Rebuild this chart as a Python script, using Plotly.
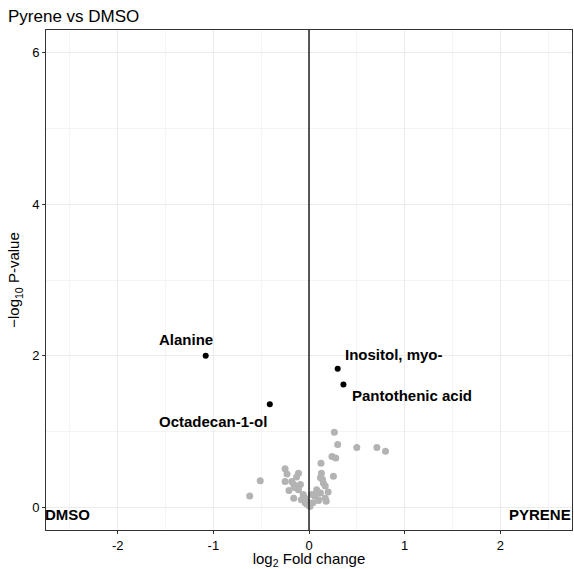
import plotly.graph_objects as go

# Significant (labelled) metabolites
sig_names = ["Alanine", "Octadecan-1-ol", "Inositol, myo-", "Pantothenic acid"]
sig_log2fc = [-1.08, -0.41, 0.30, 0.36]
sig_neglogp = [2.00, 1.36, 1.83, 1.62]

# Non-significant metabolites
ns_log2fc = [0.265, 0.30, 0.50, 0.71, 0.80, 0.24, 0.28, 0.125, -0.51, -0.62,
             -0.25, -0.23, -0.11, -0.13, 0.13, 0.12, 0.255, -0.25, -0.18, -0.16,
             -0.09, 0.15, 0.17, -0.15, -0.11, 0.08, 0.12, -0.06, -0.04, 0.03,
             0.06, 0.10, 0.17, 0.18, -0.08, -0.04, 0.01, 0.04, -0.02, -0.16,
             0.10, -0.21, 0.20, 0.09, 0.14, -0.02, 0.00]
ns_neglogp = [0.99, 0.83, 0.79, 0.79, 0.74, 0.67, 0.65, 0.58, 0.35, 0.15,
              0.51, 0.44, 0.45, 0.40, 0.45, 0.39, 0.41, 0.34, 0.34, 0.30,
              0.30, 0.32, 0.28, 0.26, 0.23, 0.23, 0.19, 0.17, 0.12, 0.17,
              0.15, 0.10, 0.12, 0.08, 0.10, 0.06, 0.01, 0.06, 0.04, 0.12,
              0.09, 0.22, 0.20, 0.20, 0.37, 0.08, 0.03]

x_ticks = [-2, -1, 0, 1, 2]
y_ticks = [0, 2, 4, 6]

# label offsets in pixels (dx, dy, anchor)
label_style = {
    "Alanine": (-20, 16, "center"),
    "Octadecan-1-ol": (-57, -17, "center"),
    "Inositol, myo-": (5, 14, "left"),
    "Pantothenic acid": (7, -11, "left"),
}

bold = dict(family="Liberation Sans, Arial", size=15, color="black", weight="bold")

fig = go.Figure()
fig.add_trace(go.Scatter(x=ns_log2fc, y=ns_neglogp, mode="markers",
                         marker=dict(color="#b3b3b3", size=7), hoverinfo="skip"))
fig.add_trace(go.Scatter(x=sig_log2fc, y=sig_neglogp, mode="markers",
                         marker=dict(color="black", size=6), text=sig_names))

annotations = []
for n, x, y in zip(sig_names, sig_log2fc, sig_neglogp):
    dx, dy, anc = label_style[n]
    annotations.append(dict(x=x, y=y, text=n, showarrow=False, xanchor=anc,
                            yanchor="middle", xshift=dx, yshift=dy, font=bold))
annotations.append(dict(x=0, y=-0.1, xref="paper", yref="y", text="DMSO",
                        showarrow=False, xanchor="left", yanchor="middle", xshift=-3,
                        font=bold))
annotations.append(dict(x=1, y=-0.1, xref="paper", yref="y", text="PYRENE",
                        showarrow=False, xanchor="right", yanchor="middle", xshift=1,
                        font=bold))

fig.update_layout(
    width=574, height=569,
    margin=dict(l=46, r=1, t=30, b=37),
    paper_bgcolor="white", plot_bgcolor="white",
    showlegend=False,
    title=dict(text="Pyrene vs DMSO", x=8 / 574, xref="container", xanchor="left",
               y=1 - 16 / 569, yanchor="middle", yref="container",
               font=dict(family="Liberation Sans, Arial", size=17, color="black")),
    annotations=annotations,
    shapes=[dict(type="line", xref="x", yref="paper", x0=0, x1=0, y0=0, y1=1,
                 line=dict(color="black", width=1.3), layer="above")],
    font=dict(family="Liberation Sans, Arial", color="black"),
)
fig.update_xaxes(
    range=[-2.75, 2.75], tickvals=x_ticks, ticktext=[str(v) for v in x_ticks],
    ticks="outside", ticklen=3, tickcolor="#333333",
    tickfont=dict(size=13, color="black"),
    showgrid=True, gridcolor="#ebebeb", gridwidth=1, zeroline=False,
    minor=dict(dtick=0.5, tick0=0, showgrid=True, gridcolor="#f4f4f4", gridwidth=0.6, ticks=""),
    showline=True, linecolor="#333333", linewidth=1, mirror=True,
    title=dict(text="log<sub>2</sub> Fold change", font=dict(size=15, color="black"), standoff=5),
)
fig.update_yaxes(
    range=[-0.3, 6.3], tickvals=y_ticks, ticktext=[str(v) for v in y_ticks],
    ticks="outside", ticklen=3, tickcolor="#333333",
    tickfont=dict(size=13, color="black"),
    showgrid=True, gridcolor="#ebebeb", gridwidth=1, zeroline=False,
    minor=dict(dtick=1, tick0=1, showgrid=True, gridcolor="#f4f4f4", gridwidth=0.6, ticks=""),
    showline=True, linecolor="#333333", linewidth=1, mirror=True,
    title=dict(text="−log<sub>10</sub> P-value", font=dict(size=15, color="black"), standoff=8),
)
fig.write_html("out.html", config={"displayModeBar": False},
               post_script="document.body.style.margin='0px';document.body.style.overflow='hidden';")
